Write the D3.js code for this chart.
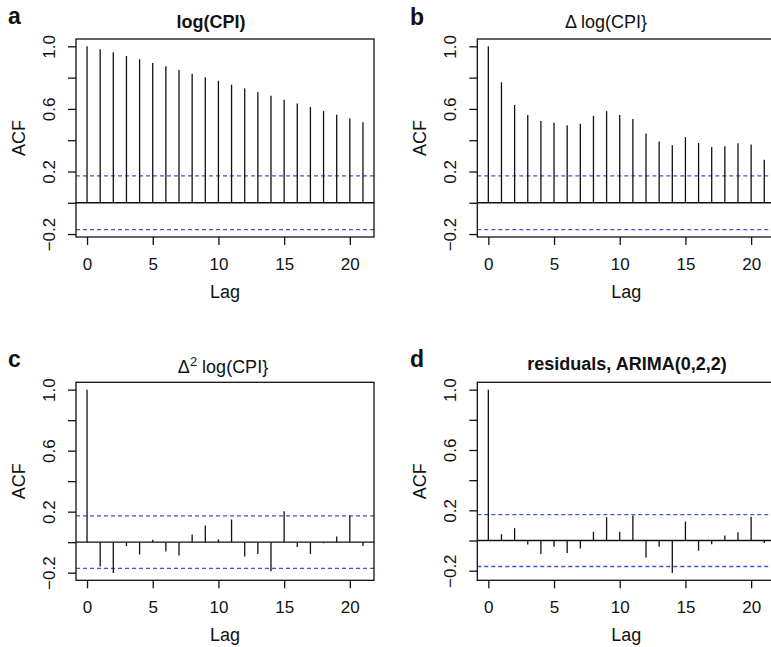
<!DOCTYPE html>
<html><head><meta charset="utf-8">
<script src="https://cdn.jsdelivr.net/npm/d3@7"></script>
<style>
body{margin:0;background:#fff}
svg{display:block}
text{font-family:"Liberation Sans",Arial,Helvetica,sans-serif;fill:#111}
</style>
</head><body>
<svg id="chart" width="771" height="647"></svg>
<script>
// ---- data ----
const lags = [0,1,2,3,4,5,6,7,8,9,10,11,12,13,14,15,16,17,18,19,20,21];
const acfLogCPI = [1.0,0.981,0.962,0.938,0.917,0.893,0.872,0.849,0.825,0.802,0.780,0.755,0.731,0.708,0.684,0.659,0.635,0.612,0.586,0.563,0.539,0.514];
const acfDiff1  = [1.0,0.770,0.625,0.561,0.522,0.512,0.495,0.505,0.556,0.586,0.561,0.535,0.443,0.392,0.367,0.420,0.382,0.356,0.362,0.380,0.373,0.275];
const acfDiff2  = [1.0,-0.160,-0.202,-0.026,-0.081,0.015,-0.061,-0.088,0.050,0.110,0.018,0.149,-0.094,-0.077,-0.191,0.202,-0.031,-0.077,-0.007,0.037,0.175,-0.026];
const acfResid  = [1.0,0.042,0.082,-0.027,-0.089,-0.042,-0.082,-0.053,0.058,0.155,0.058,0.166,-0.113,-0.042,-0.215,0.126,-0.067,-0.024,0.033,0.055,0.157,-0.016];
const confLimit = 0.172;
const yTicks = [-0.2,0,0.2,0.4,0.6,0.8,1.0];
const yTickLabels = ["\u22120.2","","0.2","","0.6","","1.0"];
const xTicks = [0,5,10,15,20];
const panelLetters = ["a","b","c","d"];
const panelSeries = [acfLogCPI, acfDiff1, acfDiff2, acfResid];
const xLabel = "Lag";
const yLabel = "ACF";

// ---- layout ----
const W = 298, H = 198;
const layout = [
  {left:76,    top:39,    titleX:211, titleY:28,  letterX:8,   letterY:24, bold:true},
  {left:477.3, top:39,    titleX:606, titleY:28,  letterX:410, letterY:25, bold:false},
  {left:76,    top:382.3, titleX:223, titleY:373, letterX:8,   letterY:367, bold:false},
  {left:477.3, top:382.3, titleX:627, titleY:370, letterX:410, letterY:367, bold:true}
];
const blue = "#3f56d2";
const ink = "#111";

const svg = d3.select("#chart");

function drawTitle(g, i, L){
  const t = g.append("text").attr("x", L.titleX).attr("y", L.titleY)
    .attr("text-anchor","middle").style("font-size","18px")
    .style("font-weight", L.bold ? "bold" : "normal");
  if(i===0){ t.text("log(CPI)"); }
  else if(i===1){ t.text("\u0394 log(CPI}"); }
  else if(i===2){
    t.append("tspan").text("\u0394");
    t.append("tspan").attr("dy","-7").style("font-size","13px").text("2");
    t.append("tspan").attr("dy","7").text(" log(CPI}");
  }
  else { t.text("residuals, ARIMA(0,2,2)"); }
}

panelSeries.forEach((vals, i) => {
  const L = layout[i];
  const x = d3.scaleLinear().domain([-0.84, 21.84]).range([0, W]);
  const lo = Math.min(d3.min(vals), -confLimit), hi = Math.max(d3.max(vals), confLimit);
  const pad = (hi - lo) * 0.04;
  const y = d3.scaleLinear().domain([lo - pad, hi + pad]).range([H, 0]);

  const g = svg.append("g").attr("transform", `translate(${L.left},${L.top})`);

  // zero line
  g.append("line").attr("x1",0).attr("x2",W).attr("y1",y(0)).attr("y2",y(0))
    .attr("stroke",ink).attr("stroke-width",1.3);
  // confidence limits
  [confLimit, -confLimit].forEach(c => {
    g.append("line").attr("x1",0).attr("x2",W).attr("y1",y(c)).attr("y2",y(c))
      .attr("stroke",blue).attr("stroke-width",1.3).attr("stroke-dasharray","4,3");
  });
  // bars
  g.selectAll("line.bar").data(lags).join("line").attr("class","bar")
    .attr("x1", d => x(d)).attr("x2", d => x(d))
    .attr("y1", y(0)).attr("y2", d => y(vals[d]))
    .attr("stroke", ink).attr("stroke-width", 1.3);
  // box
  g.append("rect").attr("x",0).attr("y",0).attr("width",W).attr("height",H)
    .attr("fill","none").attr("stroke",ink).attr("stroke-width",1.3);

  // x axis
  const xa = g.append("g").attr("transform",`translate(0,${H})`)
    .call(d3.axisBottom(x).tickValues(xTicks).tickSize(8).tickPadding(13).tickFormat(d3.format("d")));
  xa.select(".domain").remove();
  xa.selectAll("line").attr("stroke",ink).attr("stroke-width",1.3);
  xa.selectAll("text").style("font-size","17px").attr("fill",ink)
    .style("font-family","'Liberation Sans',Arial,sans-serif");

  // y axis
  const ya = g.append("g")
    .call(d3.axisLeft(y).tickValues(yTicks).tickSize(8).tickFormat((d,k) => yTickLabels[k]));
  ya.select(".domain").remove();
  ya.selectAll("line").attr("stroke",ink).attr("stroke-width",1.3);
  ya.selectAll("text").style("font-size","17px").attr("fill",ink)
    .style("font-family","'Liberation Sans',Arial,sans-serif")
    .attr("x",0).attr("dy",0).attr("text-anchor","middle")
    .attr("transform","translate(-21,0) rotate(-90)");

  // axis titles
  g.append("text").attr("x", W/2).attr("y", H + 61).attr("text-anchor","middle")
    .style("font-size","18px").text(xLabel);
  g.append("text").attr("transform",`translate(-51,${H/2}) rotate(-90)`)
    .attr("text-anchor","middle").style("font-size","18px").text(yLabel);

  // title and letter
  drawTitle(svg, i, L);
  svg.append("text").attr("x", L.letterX).attr("y", L.letterY)
    .style("font-size","23px").style("font-weight","bold").text(panelLetters[i]);
});
</script>
</body></html>
